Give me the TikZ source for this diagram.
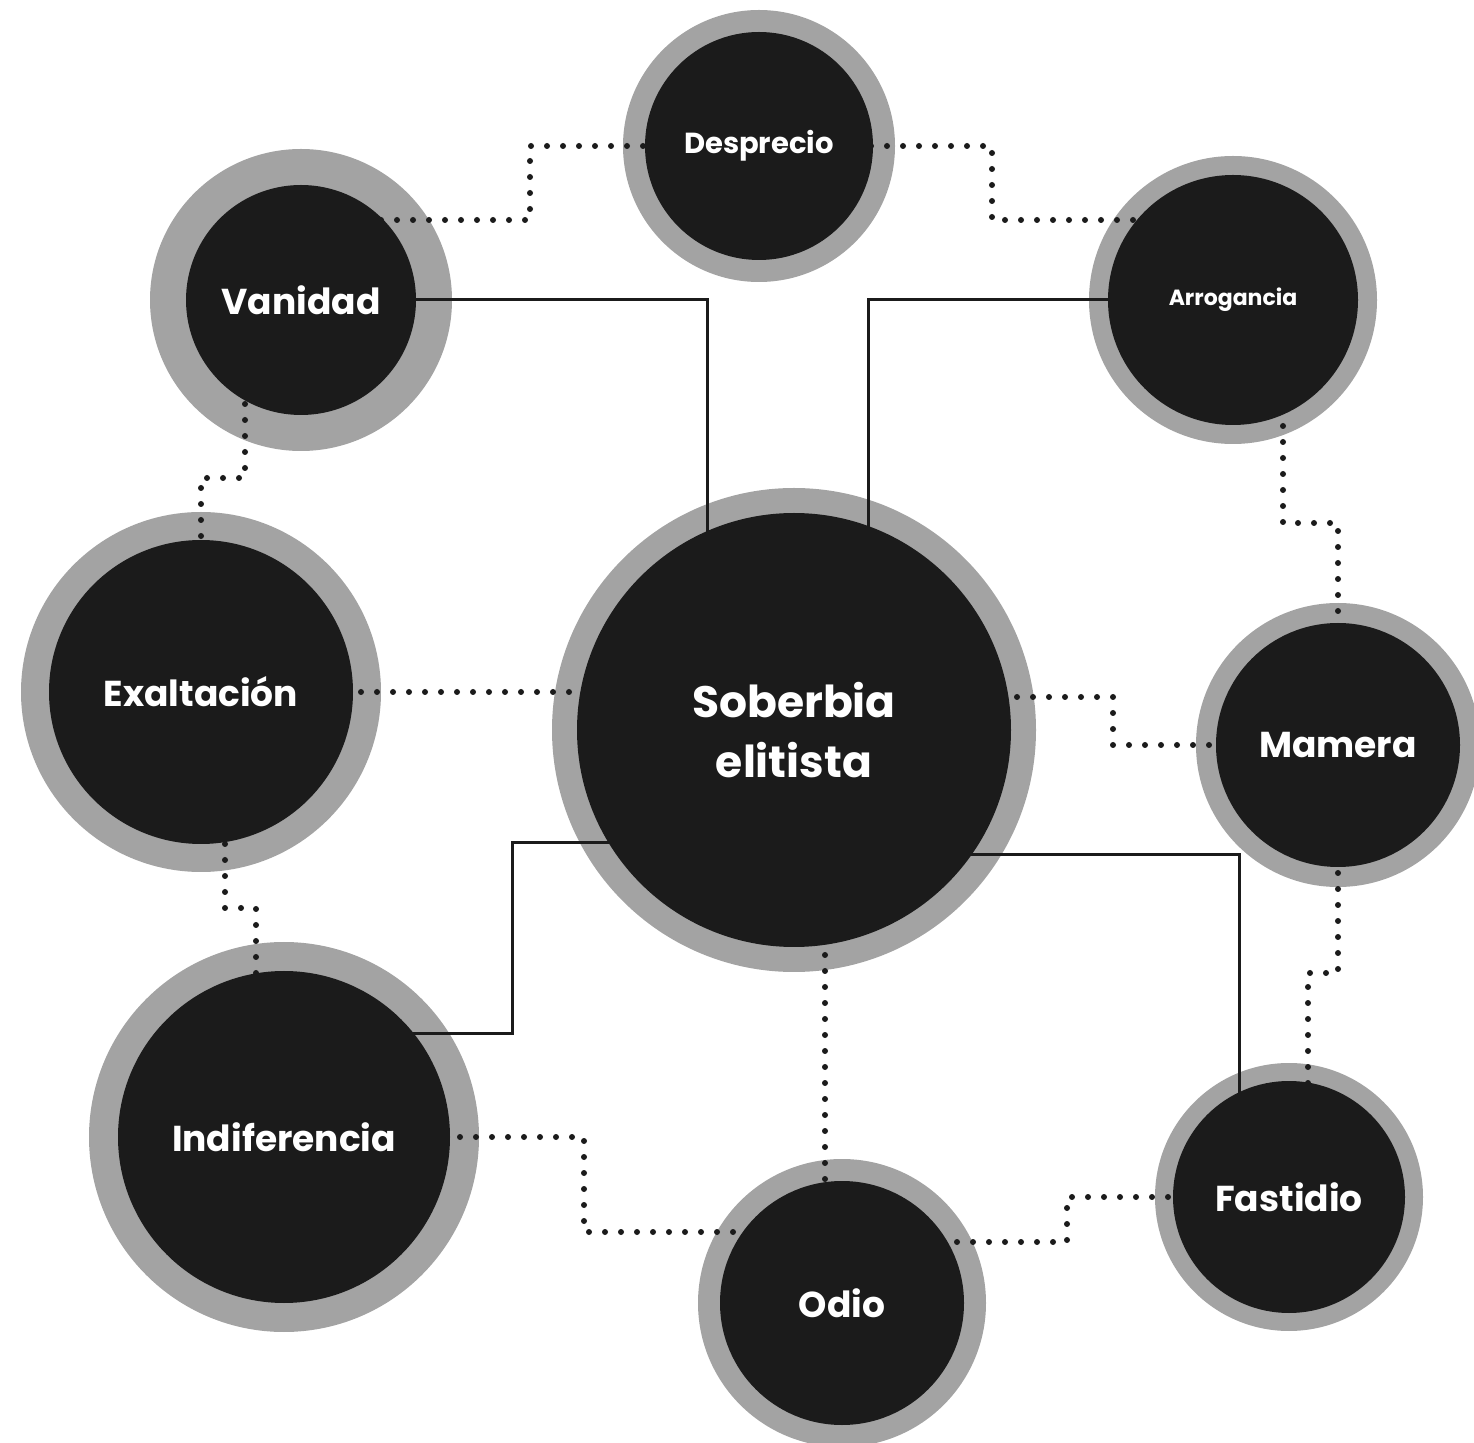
\documentclass[tikz,border=0pt]{standalone}
\usepackage{fontspec}
\setmainfont{Poppins}
\usetikzlibrary{calc}
\definecolor{ringgray}{HTML}{A3A3A3}
\definecolor{coreblack}{HTML}{1B1B1B}
\pgfdeclarelayer{rings}
\pgfdeclarelayer{links}
\pgfsetlayers{rings,links,main}

\begin{document}
\begin{tikzpicture}[
  x=0.5pt, y=-0.5pt,
  core/.style={circle, fill=coreblack, text=white, inner sep=0pt, align=center,
    font=\fontsize{18}{22}\selectfont\bfseries},
  solidlink/.style={draw=coreblack, line width=1.5pt},
  dotlink/.style={draw=coreblack, line width=3pt, line cap=round, dash pattern=on 0pt off 8pt},
]
\useasboundingbox (0,0) rectangle (1474,1443);
% emotions
\node[core, minimum size=217pt, font=\fontsize{22}{30}\selectfont\bfseries] (sob) at (794,730) {Soberbia\\elitista};
\node[core, minimum size=114pt, font=\fontsize{14.5}{18}\selectfont\bfseries] (des) at (759,146) {Desprecio};
\node[core, minimum size=115pt] (van) at (301,300) {Vanidad};
\node[core, minimum size=125pt, font=\fontsize{11}{14}\selectfont\bfseries] (arr) at (1233,300) {Arrogancia};
\node[core, minimum size=152pt] (exa) at (201,692) {Exaltación};
\node[core, minimum size=122pt] (mam) at (1338,745) {Mamera};
\node[core, minimum size=166pt] (ind) at (284,1137) {Indiferencia};
\node[core, minimum size=122pt] (odi) at (842,1303) {Odio};
\node[core, minimum size=116pt] (fas) at (1289,1197) {Fastidio};

\begin{pgfonlayer}{rings}
  \foreach \n/\r in {sob/121, des/68, van/75.5, arr/72, exa/90, mam/71, ind/97.5, odi/72, fas/67}
    \fill[ringgray] (\n.center) circle[radius=\r pt];
\end{pgfonlayer}

\begin{pgfonlayer}{links}
  % solid links to the centre
  \draw[solidlink] (van.center) -- (707,300) |- (sob.center);
  \draw[solidlink] (arr.center) -- (868,300) |- (sob.center);
  \draw[solidlink] (sob.center) |- (512,843) -- (512,1033) -| (ind.center);
  \draw[solidlink] (sob.center) |- (1239,855) |- (fas.center);
  % dotted ring
  \draw[dotlink] (van.center) |- (530,220) |- (des.center);
  \draw[dotlink] (des.center) -| (992,220) -| (arr.center);
  \draw[dotlink] (arr.center) -| (1283,523) -| (mam.center);
  \draw[dotlink] (van.center) -| (245,478) -| (exa.center);
  \draw[dotlink] (exa.center) -- (sob.center |- exa.center);
  \draw[dotlink] (sob.center) |- (1113,697) |- (mam.center);
  \draw[dotlink] (exa.center) -| (225,908) -| (256,1137) -- (ind.center);
  \draw[dotlink] (sob.center) -| (825,1303) -- (odi.center);
  \draw[dotlink] (mam.center) -- (1338,973) -| (1308,1197) -- (fas.center);
  \draw[dotlink] (ind.center) -| (584,1232) -| (odi.center);
  \draw[dotlink] (odi.center) |- (1067,1242) |- (fas.center);
\end{pgfonlayer}
\end{tikzpicture}
\end{document}
